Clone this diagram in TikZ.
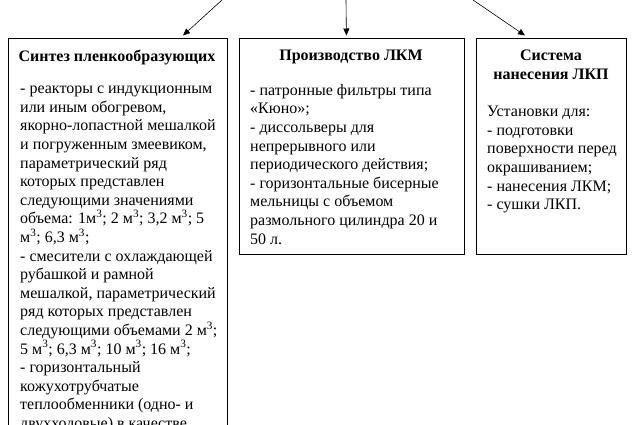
\documentclass[tikz,border=0pt]{standalone}
\usepackage{fontspec}
\setmainfont{Liberation Serif}
\usetikzlibrary{arrows.meta,positioning}

\begin{document}
\begin{tikzpicture}[x=1pt, y=-1pt,
  box/.style={draw, line width=0.8pt, anchor=north west, inner sep=0pt},
  head/.style={anchor=north, align=center, inner sep=0pt, font=\fontsize{16}{18.6}\selectfont\bfseries},
  body/.style={anchor=north west, align=left, inner sep=0pt, font=\fontsize{16}{18.6}\selectfont},
  feed/.style={-{Triangle[length=7pt, width=6pt]}, line width=0.6pt}]
\useasboundingbox (0,0) rectangle (636,424);
\clip (0,0) rectangle (636,424);

% Sources above the frame
\coordinate (srcL) at (222,0);
\coordinate (srcM) at (346,0);
\coordinate (srcR) at (473,0);

% First column: synthesis of film formers
\node[box, minimum width=219pt, minimum height=500pt] (synth) at (8,38) {};
\node[head] (synthHead) at (117,50) {Синтез пленкообразующих};
\node[body] (synthBody) at (20,86) {- реакторы с индукционным\\
или иным обогревом,\\
якорно-лопастной мешалкой\\
и погруженным змеевиком,\\
параметрический ряд\\
которых представлен\\
следующими значениями\\
объема: 1м\textsuperscript{3}; 2 м\textsuperscript{3}; 3,2 м\textsuperscript{3}; 5\\
м\textsuperscript{3}; 6,3 м\textsuperscript{3};\\
- смесители с охлаждающей\\
рубашкой и рамной\\
мешалкой, параметрический\\
ряд которых представлен\\
следующими объемами 2 м\textsuperscript{3};\\
5 м\textsuperscript{3}; 6,3 м\textsuperscript{3}; 10 м\textsuperscript{3}; 16 м\textsuperscript{3};\\
- горизонтальный\\
кожухотрубчатые\\
теплообменники (одно- и\\
двухходовые) в качестве};

% Second column: paint production
\node[box, minimum width=225pt, minimum height=216pt] (prod) at (239,38) {};
\node[head] (prodHead) at (351,50) {Производство ЛКМ};
\node[body] (prodBody) at (250,84) {- патронные фильтры типа\\
«Кюно»;\\
- диссольверы для\\
непрерывного или\\
периодического действия;\\
- горизонтальные бисерные\\
мельницы с объемом\\
размольного цилиндра 20 и\\
50 л.};

% Third column: coating application
\node[box, minimum width=150pt, minimum height=216pt] (apply) at (476,38) {};
\node[head] (applyHead) at (551,50) {Система\\нанесения ЛКП};
\node[body] (applyBody) at (487,106) {Установки для:\\
- подготовки\\
поверхности перед\\
окрашиванием;\\
- нанесения ЛКМ;\\
- сушки ЛКП.};

% Feeds from above
\draw[feed] (srcL) -- ([xshift=175pt, yshift=2.5pt]synth.north west);
\draw[feed] (srcM) -- ([xshift=-5.5pt, yshift=2.5pt]prod.north);
\draw[feed] (srcR) -- ([xshift=49pt, yshift=2.5pt]apply.north west);
\end{tikzpicture}
\end{document}
